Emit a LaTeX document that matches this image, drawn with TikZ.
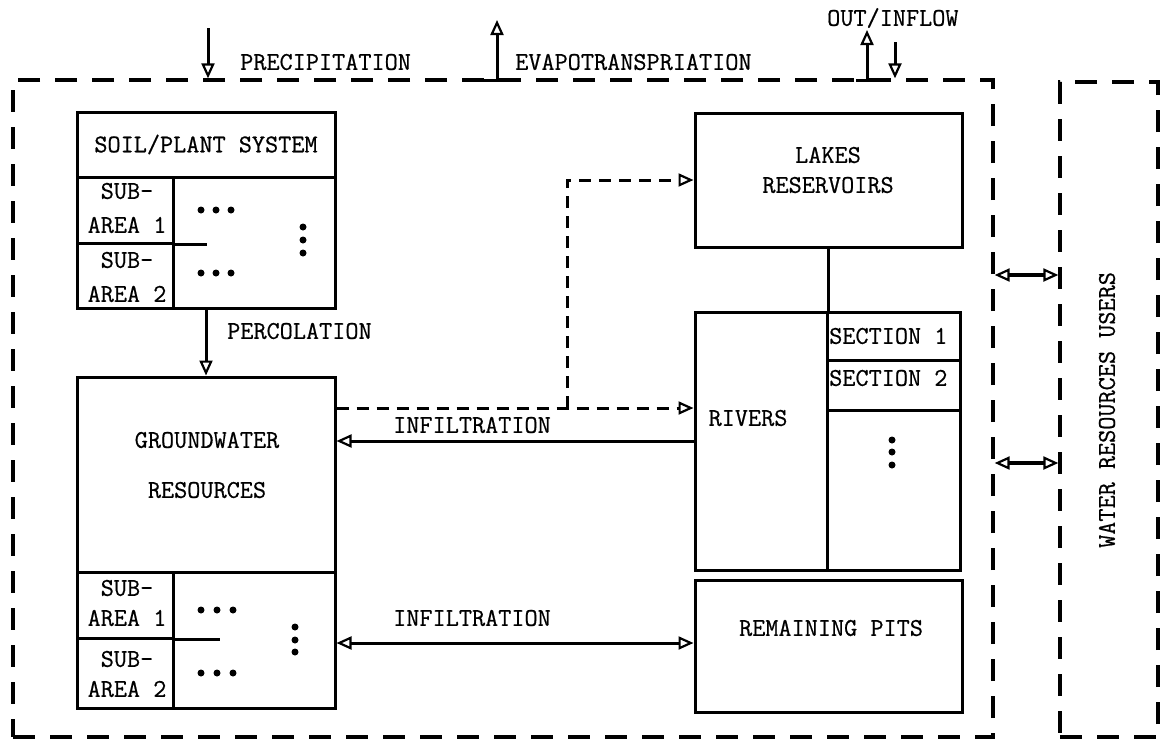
\documentclass[tikz,border=0pt]{standalone}
\usepackage{fontspec}
\newfontfamily\typew[FakeBold=0.6]{Latin Modern Mono}
\usetikzlibrary{arrows.meta}
\begin{document}
\begin{tikzpicture}[x=1pt,y=-1pt,
  otip/.tip={Triangle[open,length=15pt,width=13pt,line width=2.2pt]},
  box/.style={draw, line width=3pt, inner sep=0pt},
  txt/.style={font=\fontsize{25.5}{34}\selectfont\typew, inner sep=0pt, align=center},
  arr/.style={line width=3pt, -otip},
  dbl/.style={line width=3.5pt, otip-otip},
  framebox/.style={draw, line width=3.3pt, dash pattern=on 22pt off 15pt, inner sep=0pt},
  dsh/.style={line width=3pt, dash pattern=on 12pt off 8pt},
  dot/.style={circle, fill, inner sep=0pt, minimum size=7pt}]
\useasboundingbox (0,0) rectangle (1164,747);

% frames
\node[framebox, minimum width=980pt, minimum height=657pt] (system) at (503,408.5) {};
\node[framebox, minimum width=98pt, minimum height=655pt] (users) at (1109,409.5) {};
\node[txt, rotate=90] (userslabel) at (1107,410) {WATER RESOURCES USERS};

% soil/plant system
\node[box, minimum width=258pt, minimum height=196pt] (soil) at (206,210) {};
\node[box, txt, minimum width=258pt, minimum height=65pt] (soiltitle) at (206,144.5) {SOIL/PLANT SYSTEM};
\node[box, minimum width=96pt, minimum height=66pt] (ssub1) at (125,210) {};
\node[box, minimum width=96pt, minimum height=65pt] (ssub2) at (125,275.5) {};
\node[box, minimum width=162pt, minimum height=131pt] (srest) at (254,242.5) {};
\node[txt] (ssub1t) at (127,208) {SUB-\\AREA 1};
\node[txt] (ssub2t) at (127,277) {SUB-\\AREA 2};
\draw[line width=3pt] (ssub1.south east) -- ++(32,0);
\foreach \x in {201,216,231} {\node[dot] at (\x,210) {}; \node[dot] at (\x,273) {};}
\foreach \y in {227,240,253} {\node[dot] at (303,\y) {};}

% groundwater
\node[box, minimum width=258pt, minimum height=331pt] (gw) at (206,542.5) {};
\node[box, minimum width=258pt, minimum height=195pt] (gwmain) at (206,474.5) {};
\node[txt, font=\fontsize{25.5}{50}\selectfont\typew] (gwlabel) at (207,465) {GROUNDWATER\\RESOURCES};
\node[box, minimum width=96pt, minimum height=66pt] (gsub1) at (125,605) {};
\node[box, minimum width=96pt, minimum height=70pt] (gsub2) at (125,673) {};
\node[box, minimum width=162pt, minimum height=136pt] (grest) at (254,640) {};
\node[txt, font=\fontsize{25.5}{30}\selectfont\typew] (gsub1t) at (127,603) {SUB-\\AREA 1};
\node[txt, font=\fontsize{25.5}{30}\selectfont\typew] (gsub2t) at (127,674) {SUB-\\AREA 2};
\draw[line width=3pt] (gsub1.south east) -- ++(45,0);
\foreach \x in {201,217,233} {\node[dot] at (\x,610) {}; \node[dot] at (\x,673) {};}
\foreach \y in {627,640,652} {\node[dot] at (295,\y) {};}

% lakes
\node[box, minimum width=267pt, minimum height=134pt] (lakes) at (828.5,180) {};
\node[txt, font=\fontsize{25.5}{30}\selectfont\typew] (lakest) at (828,170) {LAKES\\RESERVOIRS};

% rivers
\node[box, minimum width=132pt, minimum height=258pt] (rivers) at (761,441) {};
\node[txt] (riverst) at (748,418) {RIVERS};
\node[box, minimum width=133pt, minimum height=48pt] (sec1) at (893.5,336) {};
\node[box, minimum width=133pt, minimum height=50pt] (sec2) at (893.5,385) {};
\node[box, minimum width=133pt, minimum height=160pt] (secrest) at (893.5,490) {};
\node[txt, anchor=west] (sec1t) at (829,336) {SECTION 1};
\node[txt, anchor=west] (sec2t) at (829,378) {SECTION 2};
\foreach \y in {440,452,465} {\node[dot] at (892,\y) {};}
\draw[line width=3pt] (lakes.south -| rivers.east) -- (rivers.north east);

% remaining pits
\node[box, minimum width=267pt, minimum height=132pt] (pits) at (828.5,646) {};
\node[txt] (pitst) at (831,628) {REMAINING PITS};

% connectors
\draw[arr] (soil.south) -- (gw.north);
\node[txt, anchor=west] (perc) at (227,331) {PERCOLATION};

\draw[arr] (rivers.west) -- (rivers.west -| gw.east);
\node[txt, anchor=west] (inf1) at (393,425) {INFILTRATION};

\coordinate (dj) at (567,408);
\draw[dsh, -otip] (gw.east |- dj) -- (rivers.west |- dj);
\draw[dsh, -otip] (dj) |- (lakes.west);

\coordinate (lowinf) at (0,643);
\draw[line width=3pt, otip-otip] (gw.east |- lowinf) -- (pits.west |- lowinf);
\node[txt, anchor=west] (inf2) at (393,618) {INFILTRATION};

\coordinate (da1) at (0,275);
\coordinate (da2) at (0,463);
\draw[dbl] (system.east |- da1) -- (users.west |- da1);
\draw[dbl] (system.east |- da2) -- (users.west |- da2);

% top flows
\coordinate (prec) at (208,28);
\draw[arr] (prec) -- (prec |- system.north);
\node[txt, anchor=west] (prect) at (240,62) {PRECIPITATION};

\coordinate (evap) at (497,20);
\coordinate (evapfoot) at (472,80);
\draw[arr] (evapfoot) -| (evap);
\node[txt, anchor=west] (evapt) at (515,62) {EVAPOTRANSPRIATION};

\coordinate (outf) at (867,30);
\coordinate (outfoot) at (856,80);
\draw[arr] (outfoot) -| (outf);
\coordinate (inf) at (895,42);
\draw[arr] (inf) -- (inf |- system.north);
\node[txt, anchor=west] (outt) at (827,18) {OUT/INFLOW};
\end{tikzpicture}
\end{document}
